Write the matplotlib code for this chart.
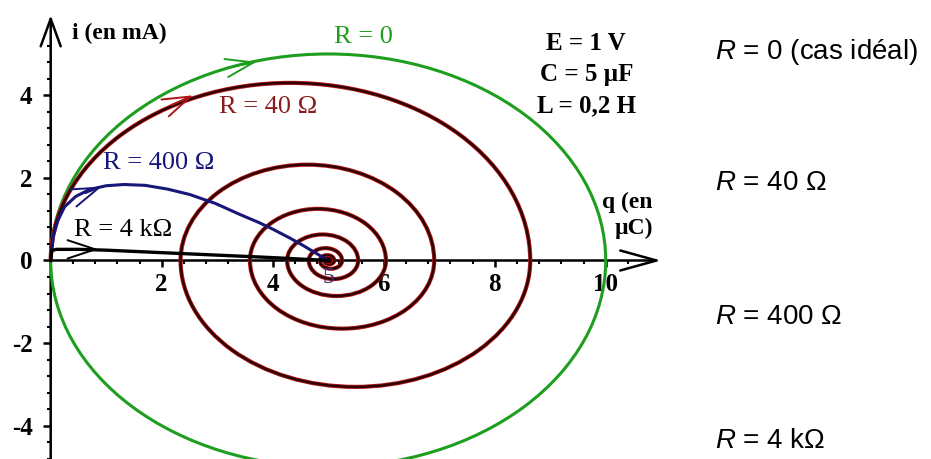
import numpy as np
import matplotlib.pyplot as plt
from matplotlib.patches import Arc, Ellipse
from matplotlib.ticker import FixedLocator

plt.rcParams['axes.unicode_minus'] = False
plt.rcParams['mathtext.fontset'] = 'custom'
plt.rcParams['mathtext.it'] = 'Liberation Sans:italic'
plt.rcParams['mathtext.rm'] = 'Liberation Sans'

# R = 0 : closed ellipse, q from 0 to 10 uC, i between -5 and 5 mA
q0_range = [0, 10]
i0_amp = 5

# R = 40 ohm : spiral, q-axis crossings and current peak of each half turn
q40_cross = [0, 8.64, 2.34, 6.91, 3.59, 6.04, 4.26, 5.54, 4.65, 5.25, 4.85, 5.11, 4.93, 5.05, 4.97]
i40_peak = [4.30, -3.06, 2.32, -1.65, 1.25, -0.86, 0.63, -0.45, 0.30, -0.20, 0.13, -0.09, 0.06, -0.04]

# R = 400 ohm (critical)
q400 = [0, 0.05, 0.13, 0.25, 0.45, 0.7, 1.0, 1.32, 1.7, 2.1, 2.5, 2.97, 3.4, 3.75, 4.0, 4.3, 4.54, 4.75, 4.9, 5.0]
i400 = [0, 0.6, 0.97, 1.3, 1.55, 1.72, 1.81, 1.84, 1.82, 1.73, 1.6, 1.38, 1.12, 0.92, 0.76, 0.55, 0.37, 0.2, 0.08, 0]

# R = 4 kohm
q4k = [0, 0.02, 0.1, 0.5, 1.0, 2.0, 3.0, 4.0, 5.0]
i4k = [0, 0.24, 0.27, 0.27, 0.25, 0.19, 0.13, 0.07, 0]

x_ticks = [2, 4, 6, 8, 10]
y_ticks = [-4, -2, 0, 2, 4]

right_labels = ['$\\mathit{R}$ = 0 (cas idéal)', '$\\mathit{R}$ = 40 Ω',
                '$\\mathit{R}$ = 400 Ω', '$\\mathit{R}$ = 4 kΩ']

GREEN = '#1e9e1e'
BROWN = '#2b0303'
RED = '#b01515'
NAVY = '#17177a'
SERIF = 'Liberation Serif'

fig = plt.figure(figsize=(9.31, 4.59), dpi=100)
ax = fig.add_axes([0, 0, 1, 1])
ax.set_xlim(-0.9135, 15.861)
ax.set_ylim(-4.806, 6.307)
for s in ax.spines.values():
    s.set_visible(False)
ax.spines['left'].set_position(('data', 0))
ax.spines['bottom'].set_position(('data', 0))

# axes with open arrow heads
arr = dict(arrowstyle='->,head_length=1.1,head_width=0.4', color='black', lw=1.8,
           shrinkA=0, shrinkB=0, mutation_scale=18)
ax.annotate('', xy=(0, 5.94), xytext=(0, -5.5), arrowprops=arr)
arr_x = dict(arr, arrowstyle='->,head_length=1.45,head_width=0.4')
ax.annotate('', xy=(11.0, 0), xytext=(0, 0), arrowprops=arr_x)

# ticks
ax.set_xticks(x_ticks)
ax.set_yticks(y_ticks)
ax.xaxis.set_minor_locator(FixedLocator([v for v in np.arange(0.4, 10.5, 0.4) if abs(v / 2 - round(v / 2)) > 0.01]))
ax.yaxis.set_minor_locator(FixedLocator([v for v in np.arange(-4.8, 5.3, 0.4) if abs(v / 2 - round(v / 2)) > 0.01]))
ax.tick_params(which='major', direction='out', length=5, width=1.8, pad=4)
ax.tick_params(which='minor', direction='out', length=3, width=1.5)
ax.tick_params(axis='y', which='major', length=6, pad=7)
for lab in ax.get_xticklabels() + ax.get_yticklabels():
    lab.set_fontfamily(SERIF)
    lab.set_fontweight('bold')
    lab.set_fontsize(18)

# R = 0
ell = Ellipse((np.mean(q0_range), 0), q0_range[1] - q0_range[0], 2 * i0_amp,
              fill=False, color=GREEN, lw=2.2, zorder=3)
ax.add_patch(ell)

# R = 40 : half ellipses between successive crossings
for k in range(len(i40_peak)):
    a, b = q40_cross[k], q40_cross[k + 1]
    t1, t2 = (0, 180) if i40_peak[k] > 0 else (180, 360)
    for col, lw in [(RED, 3.0), (BROWN, 1.7)]:
        ax.add_patch(Arc(((a + b) / 2, 0), abs(b - a), 2 * abs(i40_peak[k]),
                         theta1=t1, theta2=t2, color=col, lw=lw, zorder=4))

ax.plot(q400, i400, color=NAVY, lw=2.2, zorder=5)
ax.plot(q4k, i4k, color='black', lw=2.4, zorder=5)

# direction arrows on the curves: tail (q, i), tip (q, i), colour
curve_arrows = [((3.31, 4.70), (3.71, 4.81), GREEN),
                ((2.17, 3.76), (2.57, 4.00), RED),
                ((0.62, 1.63), (0.92, 1.79), NAVY),
                ((0.50, 0.27), (0.86, 0.27), 'black')]
for tail, tip, col in curve_arrows:
    ax.annotate('', xy=tip, xytext=tail,
                arrowprops=dict(arrowstyle='->,head_length=1.0,head_width=0.33',
                                color=col, lw=1.4, shrinkA=0, shrinkB=0,
                                mutation_scale=20), zorder=6)

# labels in the plot
ax.text(5.63, 5.41, 'R = 0', color=GREEN, fontsize=19, family=SERIF, ha='center', va='center')
ax.text(3.92, 3.71, 'R = 40 Ω', color='#8a1c1c', fontsize=19, family=SERIF, ha='center', va='center')
ax.text(1.94, 2.36, 'R = 400 Ω', color=NAVY, fontsize=19, family=SERIF, ha='center', va='center')
ax.text(1.31, 0.74, 'R = 4 kΩ', color='black', fontsize=19, family=SERIF, ha='center', va='center')
ax.text(5.0, -0.42, '5', color='#3b2b6b', fontsize=17, family=SERIF, ha='center', va='center',
        zorder=7)
ax.text(9.65, 4.5, 'E = 1 V\nC = 5 µF\nL = 0,2 H', color='black', fontsize=18, family=SERIF,
        fontweight='bold', ha='center', va='center', linespacing=1.45)
ax.text(0.38, 5.5, 'i (en mA)', color='black', fontsize=17, family=SERIF,
        fontweight='bold', ha='left', va='center')
ax.text(10.85, 1.09, 'q (en\nµC)', color='black', fontsize=17, family=SERIF,
        fontweight='bold', ha='right', va='center', linespacing=1.3)

# labels on the right side
for lab, yb in zip(right_labels, [0.871, 0.585, 0.294, 0.025]):
    fig.text(0.768, yb, lab, fontsize=20, family='Liberation Sans', va='baseline', ha='left')

fig.savefig('out.png', dpi=100)
